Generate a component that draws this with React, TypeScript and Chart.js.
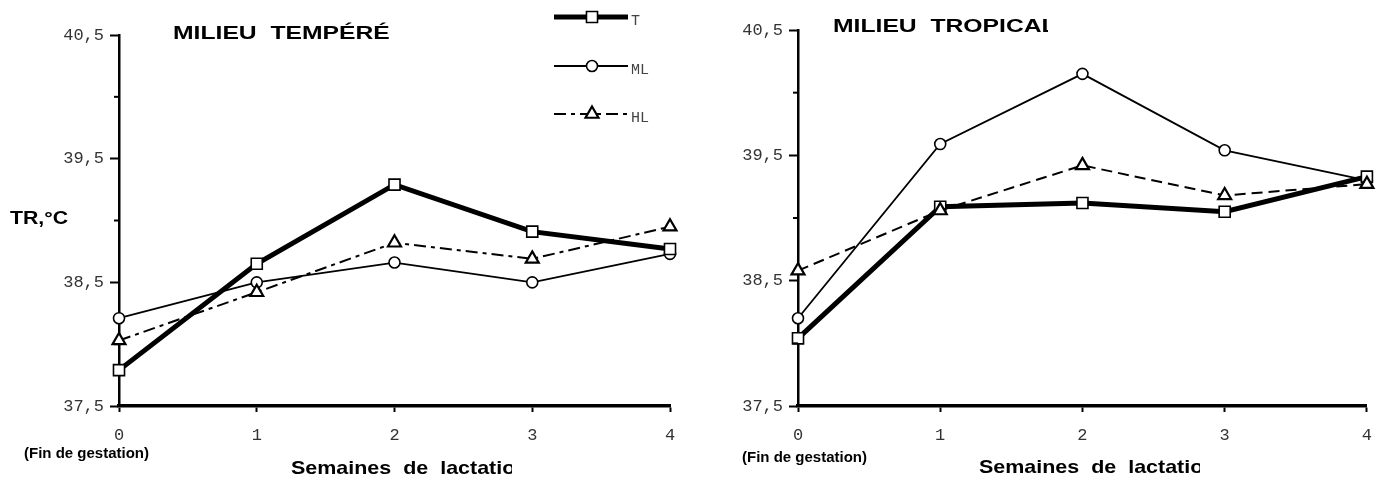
import React, { useEffect, useRef } from 'react';
import { Chart, registerables } from 'chart.js';
import { drawPoint } from 'chart.js/helpers';

Chart.register(...registerables);

// ---------- data ----------
const weeks = ['0', '1', '2', '3', '4'];
const yTickValues = [37.5, 38, 38.5, 39, 39.5, 40, 40.5];
const seriesNames = ['T', 'ML', 'HL'];

const tempereT = [37.79, 38.65, 39.29, 38.91, 38.77];
const tempereML = [38.21, 38.5, 38.66, 38.5, 38.73];
const tempereHL = [38.03, 38.42, 38.82, 38.69, 38.95];

const tropicalT = [38.04, 39.09, 39.12, 39.05, 39.33];
const tropicalML = [38.2, 39.59, 40.15, 39.54, 39.3];
const tropicalHL = [38.58, 39.06, 39.42, 39.18, 39.27];

const titleTempere = 'MILIEU  TEMPÉRÉ';
const titleTropical = 'MILIEU  TROPICAL';
const yTitle = 'TR,°C';
const finLabel = '(Fin de gestation)';
const xTitle = 'Semaines  de  lactation';

const BOLD = '"Liberation Sans", Arial, sans-serif';
const MONO = '"Liberation Mono", "DejaVu Sans Mono", monospace';

type Txt = { text: string; x: number; y: number; size: number; sx?: number; clip?: number };

type Props = {
  width: number;
  height: number;
  area: { left: number; top: number; right: number; bottom: number };
  seriesT: number[];
  seriesML: number[];
  seriesHL: number[];
  hlDash: number[];
  texts: Txt[];
  legend?: { x1: number; x2: number; mx: number; ys: number[]; tx: number };
};

function TempChart(props: Props) {
  const ref = useRef<HTMLCanvasElement>(null);
  useEffect(() => {
    const canvas = ref.current!;
    const { width, height, area } = props;

    const texts = {
      id: 'texts',
      afterDraw(chart: any) {
        const ctx = chart.ctx as CanvasRenderingContext2D;
        const ys = chart.scales.y;
        ctx.save();
        // minor ticks (unlabelled values)
        ctx.strokeStyle = '#000';
        ctx.lineWidth = 2;
        yTickValues.filter((v) => Number.isInteger(v)).forEach((v) => {
          const py = ys.getPixelForValue(v);
          ctx.beginPath();
          ctx.moveTo(ys.right - 5, py);
          ctx.lineTo(ys.right, py);
          ctx.stroke();
        });
        // texts
        props.texts.forEach((t) => {
          ctx.save();
          if (t.clip) {
            ctx.beginPath();
            ctx.rect(0, 0, t.clip, height);
            ctx.clip();
          }
          ctx.font = `bold ${t.size}px ${BOLD}`;
          ctx.fillStyle = '#000';
          ctx.textBaseline = 'middle';
          ctx.textAlign = 'left';
          ctx.translate(t.x, t.y);
          ctx.scale(t.sx || 1, 1);
          ctx.fillText(t.text, 0, 0);
          ctx.restore();
        });
        // legend
        const lg = props.legend;
        if (lg) {
          chart.data.datasets.forEach((ds: any, i: number) => {
            const y = lg.ys[i];
            ctx.save();
            ctx.strokeStyle = '#000';
            ctx.lineWidth = ds.borderWidth;
            ctx.setLineDash(ds.borderDash || []);
            ctx.beginPath();
            ctx.moveTo(lg.x1, y);
            ctx.lineTo(lg.x2, y);
            ctx.stroke();
            ctx.setLineDash([]);
            ctx.fillStyle = '#fff';
            ctx.strokeStyle = '#000';
            ctx.lineWidth = ds.pointBorderWidth;
            drawPoint(ctx, { pointStyle: ds.pointStyle, radius: ds.pointRadius, rotation: 0, borderWidth: ds.pointBorderWidth } as any, lg.mx, y);
            ctx.font = `15px ${MONO}`;
            ctx.fillStyle = '#444';
            ctx.textBaseline = 'middle';
            ctx.fillText(ds.label, lg.tx, y + 4);
            ctx.restore();
          });
        }
        ctx.restore();
      },
    };

    const chart = new Chart(canvas, {
      type: 'line',
      data: {
        labels: weeks,
        datasets: [
          {
            label: seriesNames[0],
            data: props.seriesT,
            borderColor: '#000',
            borderWidth: 5,
            pointStyle: 'rect',
            pointRadius: 7.8,
            pointBorderWidth: 1.6,
            pointBackgroundColor: '#fff',
            pointBorderColor: '#000',
            clip: false as any,
            order: 2,
          },
          {
            label: seriesNames[1],
            data: props.seriesML,
            borderColor: '#000',
            borderWidth: 1.8,
            pointStyle: 'circle',
            pointRadius: 5.5,
            pointBorderWidth: 1.6,
            pointBackgroundColor: '#fff',
            pointBorderColor: '#000',
            clip: false as any,
            order: 3,
          },
          {
            label: seriesNames[2],
            data: props.seriesHL,
            borderColor: '#000',
            borderWidth: 2,
            borderDash: props.hlDash,
            pointStyle: 'triangle',
            pointRadius: 7.5,
            pointBorderWidth: 2.2,
            pointBackgroundColor: '#fff',
            pointBorderColor: '#000',
            clip: false as any,
            order: 1,
          },
        ] as any,
      },
      options: {
        animation: false,
        responsive: false,
        maintainAspectRatio: false,
        layout: { padding: { left: 0, top: area.top, right: width - area.right, bottom: 0 } },
        plugins: { legend: { display: false }, tooltip: { enabled: false }, title: { display: false } },
        elements: { line: { tension: 0 } },
        scales: {
          x: {
            type: 'category',
            offset: false,
            grid: { display: true, drawOnChartArea: false, drawTicks: true, tickLength: 6, tickWidth: 2, tickColor: '#000' },
            border: { display: true, width: 3.5, color: '#000' },
            ticks: { color: '#333', font: { family: MONO, size: 17 }, padding: 13, maxRotation: 0, autoSkip: false },
            afterFit: (s: any) => { s.height = height - area.bottom; },
          },
          y: {
            type: 'linear',
            min: 37.5,
            max: 40.5,
            afterBuildTicks: (s: any) => { s.ticks = yTickValues.map((v) => ({ value: v })); },
            grid: {
              display: true,
              drawOnChartArea: false,
              drawTicks: true,
              tickLength: 9,
              tickWidth: 2,
              tickColor: (c: any) => (Number.isInteger(c.tick?.value) ? 'rgba(0,0,0,0)' : '#000'),
            },
            border: { display: true, width: 2.5, color: '#000' },
            ticks: {
              color: '#333',
              font: { family: MONO, size: 17 },
              padding: 6,
              autoSkip: false,
              callback: (v: any) => (Number.isInteger(Number(v)) ? '' : Number(v).toFixed(1).replace('.', ',')),
            },
            afterFit: (s: any) => { s.width = area.left; },
          },
        },
      } as any,
      plugins: [texts],
    });
    return () => chart.destroy();
  }, []);
  return <canvas ref={ref} width={props.width} height={props.height} style={{ display: 'block', width: props.width, height: props.height }} />;
}

export default function App() {
  return (
    <div style={{ position: 'absolute', left: 0, top: 0, width: 1385, height: 478, background: '#fff', display: 'flex' }}>
      <TempChart
        width={690}
        height={478}
        area={{ left: 119, top: 35, right: 670, bottom: 406 }}
        seriesT={tempereT}
        seriesML={tempereML}
        seriesHL={tempereHL}
        hlDash={[12, 5, 4, 5]}
        texts={[
          { text: titleTempere, x: 173, y: 34, size: 19, sx: 1.3 },
          { text: yTitle, x: 10, y: 219, size: 19, sx: 1.12 },
          { text: finLabel, x: 24, y: 454, size: 15, sx: 1.0 },
          { text: xTitle, x: 291, y: 469, size: 19, sx: 1.13, clip: 291 + 221 },
        ]}
        legend={{ x1: 554, x2: 628, mx: 592, ys: [17, 66, 114], tx: 631 }}
      />
      <TempChart
        width={695}
        height={478}
        area={{ left: 108, top: 30, right: 680, bottom: 406 }}
        seriesT={tropicalT}
        seriesML={tropicalML}
        seriesHL={tropicalHL}
        hlDash={[11, 6]}
        texts={[
          { text: titleTropical, x: 143, y: 27, size: 19, sx: 1.3, clip: 358 },
          { text: finLabel, x: 52, y: 458, size: 15, sx: 1.0 },
          { text: xTitle, x: 289, y: 468, size: 19, sx: 1.13, clip: 510 },
        ]}
      />
    </div>
  );
}
